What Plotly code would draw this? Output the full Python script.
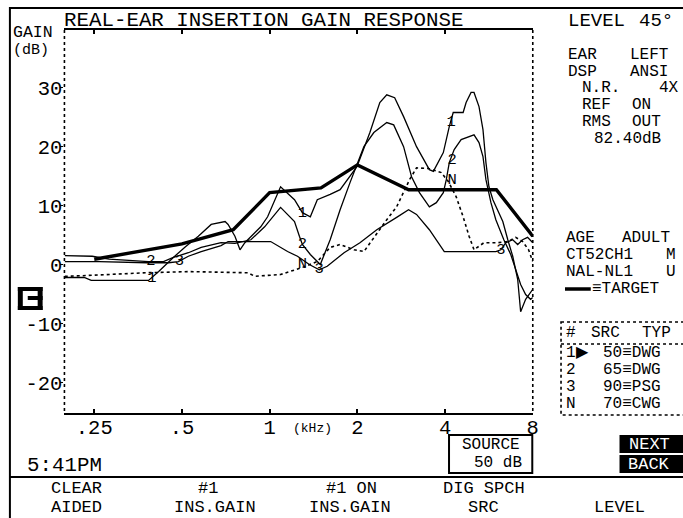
import math
import plotly.graph_objects as go

W, H = 683, 518
FONT = "Liberation Mono"

# ---------------- data (kHz, dB) ----------------
target_khz = [0.25, 0.5, 0.75, 1.0, 1.5, 2.0, 3.0, 4.0, 6.0, 8.0]
target_db = [0.9, 3.5, 5.9, 12.2, 13.0, 16.9, 12.7, 12.7, 12.7, 4.8]

c1_khz = [0.198, 0.231, 0.244, 0.384, 0.416, 0.439, 0.467, 0.514, 0.569, 0.630,
          0.703, 0.720, 0.760, 0.791, 0.822, 0.889, 0.932, 0.984, 1.09, 1.217,
          1.265, 1.295, 1.379, 1.457, 1.613, 1.745, 1.993, 2.208, 2.388, 2.523,
          2.686, 2.882, 3.192, 3.533, 3.647, 3.945, 4.135, 4.266, 4.614, 4.724,
          4.912, 5.028, 5.230, 5.397, 5.525, 5.657, 5.837, 6.313, 6.567, 6.827,
          7.100, 7.268, 7.561, 7.861, 8.0]
c1_db = [-2.2, -2.2, -2.7, -2.7, -1.2, 0.0, 1.2, 3.0, 4.8, 6.8,
         7.3, 6.8, 4.8, 2.5, 3.7, 5.4, 6.4, 8.1, 13.2, 11.0,
         9.7, 8.8, 8.1, 11.0, 11.9, 12.7, 16.6, 22.4, 27.5, 28.8,
         28.3, 25.1, 20.0, 16.1, 15.8, 19.0, 23.4, 25.8, 25.8, 27.5,
         29.2, 29.2, 26.8, 22.9, 17.3, 13.2, 11.0, 7.3, 4.2, 1.4,
         -2.5, -8.0, -5.9, -4.6, -4.2]

c2_khz = [0.198, 0.246, 0.281, 0.384, 0.432, 0.467, 0.526, 0.582, 0.681, 0.760,
          0.862, 0.961, 1.09, 1.217, 1.265, 1.295, 1.379, 1.492, 1.613, 1.745,
          1.887, 2.106, 2.278, 2.523, 2.665, 2.882, 3.069, 3.267, 3.533, 3.733,
          3.945, 4.039, 4.135, 4.299, 4.541, 4.836, 5.028, 5.230, 5.397, 5.525,
          5.747, 5.975, 6.364, 6.722, 6.990, 7.268, 7.561, 7.861, 8.0]
c2_db = [1.5, 1.4, 0.9, 0.5, 0.5, 1.2, 2.0, 2.9, 3.7, 3.6,
         4.2, 6.4, 9.7, 7.3, 4.8, 3.4, 1.7, 0.0, 4.2, 9.3,
         13.9, 20.0, 22.4, 24.1, 23.7, 20.0, 14.9, 12.2, 9.8, 10.5,
         12.2, 14.4, 17.3, 19.5, 21.2, 21.7, 22.0, 20.7, 18.3, 14.4,
         10.5, 7.6, 4.2, 1.7, -0.9, -3.4, -5.1, -5.9, -5.6]

c3_khz = [0.198, 0.260, 0.378, 0.450, 0.486, 0.526, 0.582, 0.681, 0.720, 1.008,
          1.152, 1.246, 1.368, 1.480, 1.576, 1.800, 2.041, 2.332, 2.728, 2.997,
          3.192, 3.533, 3.975, 5.975, 6.214, 6.464, 6.827, 7.100, 7.383, 7.679, 8.0]
c3_db = [0.5, 0.5, 0.3, 0.3, 0.5, 1.4, 2.2, 3.2, 3.9, 3.9,
         2.2, 1.4, 0.0, -0.9, -0.3, 2.0, 3.7, 5.9, 8.0, 9.3,
         8.5, 5.9, 2.2, 2.2, 2.5, 3.7, 4.2, 3.4, 4.2, 4.6, 3.7]

cn_khz = [0.198, 0.228, 0.375, 0.526, 0.842, 0.889, 1.09, 1.217, 1.295, 1.457,
          1.613, 1.745, 1.948, 2.106, 2.278, 2.523, 2.728, 3.021, 3.192, 3.506,
          3.882, 4.102, 4.367, 4.614, 4.836, 5.028, 5.438, 6.070, 6.567, 6.990,
          7.383, 7.739, 8.0]
cn_db = [-2.0, -1.9, -1.4, -1.2, -1.4, -2.0, -1.7, -0.9, -0.5, 0.5,
         2.9, 3.4, 2.5, 2.2, 4.6, 7.6, 9.8, 14.4, 16.4, 16.3,
         15.6, 14.1, 11.5, 8.1, 4.8, 2.5, 3.7, 3.7, 3.9, 4.6,
         3.9, 2.5, 0.5]

curve_label_text = ["1", "2", "3", "1", "2", "N", "3", "1", "2", "N", "3"]
curve_label_khz = [0.394, 0.391, 0.490, 1.295, 1.295, 1.295, 1.480, 4.199, 4.232, 4.232, 6.214]
curve_label_db = [-2.3, 0.6, 0.5, 8.8, 3.4, 0.0, -0.85, 24.2, 17.8, 14.4, 2.5]

xtick_vals = [0.25, 0.5, 1, 2, 4, 8]
xtick_text = [".25", ".5", "1", "2", "4", "8"]
ytick_vals = [-20, -10, 0, 10, 20, 30]
ytick_text = ["-20", "-10", "0", "10", "20", "30"]

table_rows = [("1\u25b6", "50\u2261DWG"), ("2", "65\u2261DWG"),
              ("3", "90\u2261PSG"), ("N", "70\u2261CWG")]

# ---------------- figure ----------------
fig = go.Figure()
thin = dict(color="black", width=1.3)
fig.add_trace(go.Scatter(x=c1_khz, y=c1_db, mode="lines", line=thin))
fig.add_trace(go.Scatter(x=c2_khz, y=c2_db, mode="lines", line=thin))
fig.add_trace(go.Scatter(x=c3_khz, y=c3_db, mode="lines", line=thin))
fig.add_trace(go.Scatter(x=cn_khz, y=cn_db, mode="lines",
                         line=dict(color="black", width=1.6, dash="dot")))
fig.add_trace(go.Scatter(x=target_khz, y=target_db, mode="lines",
                         line=dict(color="black", width=3.4)))
fig.add_trace(go.Scatter(x=curve_label_khz, y=curve_label_db, mode="text",
                         text=curve_label_text, cliponaxis=False,
                         textfont=dict(family=FONT, size=15.5, color="black")))

annotations = []
shapes = []


def txt(text, x, y, size=20.8, anchor="left", color="black"):
    annotations.append(dict(text=text, x=x / W, y=1 - y / H, xref="paper", yref="paper",
                            xanchor=anchor, yanchor="middle", showarrow=False,
                            borderpad=0,
                            font=dict(family=FONT, size=size, color=color)))


def line(x0, y0, x1, y1, w=2, dash="solid"):
    shapes.append(dict(type="line", xref="paper", yref="paper",
                       x0=x0 / W, y0=1 - y0 / H, x1=x1 / W, y1=1 - y1 / H,
                       line=dict(color="black", width=w, dash=dash)))


def rect(x0, y0, x1, y1, w=2, fill=None, dash="solid"):
    d = dict(type="rect", xref="paper", yref="paper",
             x0=x0 / W, y0=1 - y0 / H, x1=x1 / W, y1=1 - y1 / H,
             line=dict(color="black", width=w, dash=dash))
    if fill:
        d["fillcolor"] = fill
    shapes.append(d)


# screen frame
line(10, 7, 10, 520, w=2)
line(10, 8, 690, 8, w=2)
line(10, 477, 690, 477, w=2)
# plot side dotted axes
line(65, 30, 65, 413, w=1.6, dash="dot")
line(537.5, 30, 537.5, 413, w=1.6, dash="dot")

# title and axis captions
txt("REAL-EAR INSERTION GAIN RESPONSE", 64, 20)
txt("GAIN", 12, 33, size=16.5)
txt("(dB)", 12, 50, size=15)
txt("(kHz)", 315, 428, size=13, anchor="center")
txt("5:41PM", 26, 465)

# right panel
RP = 16
txt("LEVEL", 572, 21, 19)
txt("45\u00b0", 644, 21, 19)
txt("EAR", 572, 55, RP)
txt("LEFT", 635, 55, RP)
txt("DSP", 572, 72, RP)
txt("ANSI", 635, 72, RP)
txt("N.R.", 586, 88, RP)
txt("4X", 664, 88, RP)
txt("REF", 586, 105, RP)
txt("ON", 637, 105, RP)
txt("RMS", 586, 122, RP)
txt("OUT", 637, 122, RP)
txt("82.40dB", 598, 139, RP)
txt("AGE", 570, 238, RP)
txt("ADULT", 627, 238, RP)
txt("CT52CH1", 570, 255, RP)
txt("M", 671, 255, RP)
txt("NAL-NL1", 570, 272, RP)
txt("U", 671, 272, RP)
line(570, 289, 596, 289, w=3.5)
txt("\u2261TARGET", 596, 289, RP)

# table
rect(566, 322, 700, 415, w=1.6, dash="dot")
line(566, 344, 690, 344, w=1.6, dash="dot")
txt("#", 570, 333, RP)
txt("SRC", 595, 333, RP)
txt("TYP", 647, 333, RP)
for i, (a, b) in enumerate(table_rows):
    yy = 353 + i * 17
    txt(a, 570, yy, RP)
    txt(b, 607, yy, RP)

# source box
rect(453, 435, 537, 473, w=2)
txt("SOURCE", 495, 445, size=16, anchor="center")
txt("50 dB", 502, 463, size=16, anchor="center")

# NEXT / BACK
rect(625, 435, 700, 453, w=0, fill="black")
rect(625, 455, 700, 473, w=0, fill="black")
txt("NEXT", 655, 444, size=17, anchor="center", color="white")
txt("BACK", 655, 464, size=17, anchor="center", color="white")

# softkey menu
MS = 17
txt("CLEAR", 77, 488, MS, anchor="center")
txt("AIDED", 77, 507.5, MS, anchor="center")
txt("#1", 210, 488, MS, anchor="center")
txt("INS.GAIN", 217, 507.5, MS, anchor="center")
txt("#1 ON", 355, 488, MS, anchor="center")
txt("INS.GAIN", 353, 507.5, MS, anchor="center")
txt("DIG SPCH", 488, 488, MS, anchor="center")
txt("SRC", 488, 507.5, MS, anchor="center")
txt("LEVEL", 625, 507.5, MS, anchor="center")

# small icon on the left
rect(18, 287, 23, 310, w=0, fill="black")
rect(18, 287, 43, 291, w=0, fill="black")
rect(18, 306, 43, 310, w=0, fill="black")
rect(38, 287, 43, 310, w=0, fill="black")
rect(28, 296, 43, 300, w=0, fill="black")

axfont = dict(family=FONT, size=20.5, color="black")
fig.update_layout(
    width=W, height=H, autosize=False,
    margin=dict(l=0, r=0, t=0, b=0),
    paper_bgcolor="white", plot_bgcolor="white",
    showlegend=False, hovermode=False,
    xaxis=dict(type="log", range=[math.log10(0.1975), math.log10(8)],
               domain=[65 / W, 537.5 / W],
               tickmode="array", tickvals=xtick_vals, ticktext=xtick_text,
               ticks="inside", ticklen=4, tickwidth=2, tickcolor="black",
               ticklabelstandoff=-6,
               showline=True, linecolor="black", linewidth=2, mirror="ticks",
               showgrid=False, zeroline=False, tickfont=axfont),
    yaxis=dict(range=[-25.2, 39.8], domain=[1 - 413 / H, 1 - 30 / H],
               tickmode="array", tickvals=ytick_vals, ticktext=ytick_text,
               ticks="outside", ticklen=3, tickwidth=1, tickcolor="black",
               ticklabelstandoff=-6,
               showline=False, showgrid=False, zeroline=False, tickfont=axfont),
    annotations=annotations, shapes=shapes,
)

fig.write_html("out.html", config={"displayModeBar": False, "staticPlot": True},
               post_script="document.body.style.margin='0';")
